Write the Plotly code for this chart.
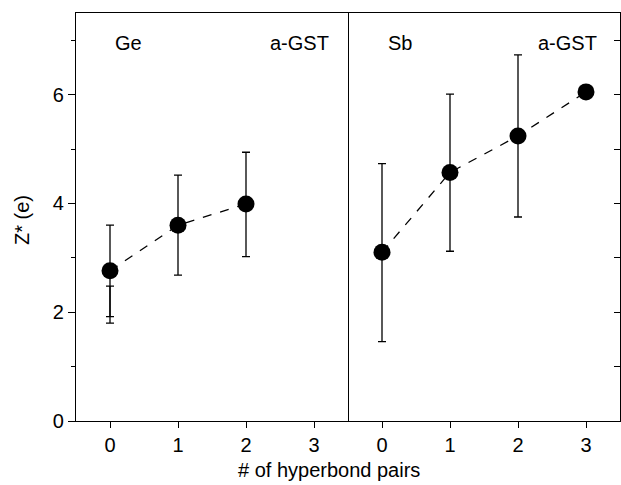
import plotly.graph_objects as go

# Born effective charge vs number of hyperbond pairs in amorphous GST
ge_pairs = [0, 1, 2]
ge_z = [2.76, 3.60, 3.99]
ge_err_plus = [0.84, 0.92, 0.95]
ge_err_minus = [0.96, 0.92, 0.97]

# secondary spread at zero pairs for Ge
ge0_pairs = [0]
ge0_z = [2.20]
ge0_err = [0.28]

sb_pairs = [0, 1, 2, 3]
sb_z = [3.10, 4.57, 5.24, 6.05]
sb_err_plus = [1.63, 1.44, 1.49, 0.0]
sb_err_minus = [1.64, 1.45, 1.49, 0.0]

x_ticks = [0, 1, 2, 3]
y_major = [0, 2, 4, 6]
y_right = [1, 2, 3, 4, 5, 6, 7]

FONT = "Liberation Sans, Arial, sans-serif"
FS = 20

fig = go.Figure()

err_style = dict(type="data", symmetric=False, color="black", thickness=1.3, width=4)

fig.add_trace(go.Scatter(
    x=ge0_pairs, y=ge0_z, mode="markers",
    marker=dict(size=1, opacity=0),
    error_y=dict(array=ge0_err, arrayminus=ge0_err, **err_style),
    xaxis="x", yaxis="y", showlegend=False, hoverinfo="skip"))

fig.add_trace(go.Scatter(
    x=ge_pairs, y=ge_z, mode="lines+markers",
    line=dict(color="black", width=1.3, dash="dash"),
    marker=dict(size=17, color="black"),
    error_y=dict(array=ge_err_plus, arrayminus=ge_err_minus, **err_style),
    xaxis="x", yaxis="y", showlegend=False))

fig.add_trace(go.Scatter(
    x=sb_pairs, y=sb_z, mode="lines+markers",
    line=dict(color="black", width=1.3, dash="dash"),
    marker=dict(size=17, color="black"),
    error_y=dict(array=sb_err_plus, arrayminus=sb_err_minus, **err_style),
    xaxis="x2", yaxis="y2", showlegend=False))

# carrier trace for the right-hand inward tick axis
fig.add_trace(go.Scatter(
    x=[None], y=[None], xaxis="x2", yaxis="y3", showlegend=False, hoverinfo="skip"))

xax = dict(range=[-0.5, 3.5], tickvals=x_ticks, ticks="outside", ticklen=6,
           tickwidth=1.3, tickcolor="black", showline=True, linecolor="black",
           linewidth=1.3, mirror=True, showgrid=False, zeroline=False,
           tickfont=dict(family=FONT, size=FS, color="black"))

fig.update_layout(
    width=621, height=485,
    margin=dict(l=76, r=1, t=13, b=64),
    plot_bgcolor="white", paper_bgcolor="white",
    xaxis=dict(domain=[0, 0.5], anchor="y", **xax),
    xaxis2=dict(domain=[0.5, 1], anchor="y2", **xax),
    yaxis=dict(range=[0, 7.5], tickvals=y_major, ticks="outside", ticklen=7,
               tickwidth=1.3, tickcolor="black", showline=True, linecolor="black",
               linewidth=1.3, mirror=True, showgrid=False, zeroline=False,
               minor=dict(dtick=1, tick0=1, ticks="outside", ticklen=4,
                          tickwidth=1.3, tickcolor="black", showgrid=False),
               tickfont=dict(family=FONT, size=FS, color="black"),
               anchor="x"),
    yaxis2=dict(range=[0, 7.5], matches="y", showticklabels=False, ticks="",
                showline=False, showgrid=False, zeroline=False, anchor="x2"),
    yaxis3=dict(range=[0, 7.5], overlaying="y2", side="right", anchor="x2",
                tickvals=y_right, ticks="inside", ticklen=6, tickwidth=1.3,
                tickcolor="black", showticklabels=False, showline=True,
                linecolor="black", linewidth=1.3,
                showgrid=False, zeroline=False),
)

label_font = dict(family=FONT, size=FS, color="black")
for x, text in [(0.0956, "Ge"), (0.41, "a-GST"), (0.596, "Sb"), (0.904, "a-GST")]:
    fig.add_annotation(x=x, y=0.926, xref="paper", yref="paper", text=text,
                       showarrow=False, xanchor="center", yanchor="middle",
                       font=label_font)

fig.add_annotation(x=0.465, y=-0.12, xref="paper", yref="paper",
                   text="# of hyperbond pairs", showarrow=False,
                   xanchor="center", yanchor="middle", font=label_font)
fig.add_annotation(x=-0.099, y=0.493, xref="paper", yref="paper",
                   text="Z* (e)", showarrow=False, textangle=-90,
                   xanchor="center", yanchor="middle", font=label_font)

fig.write_html("out.html")
